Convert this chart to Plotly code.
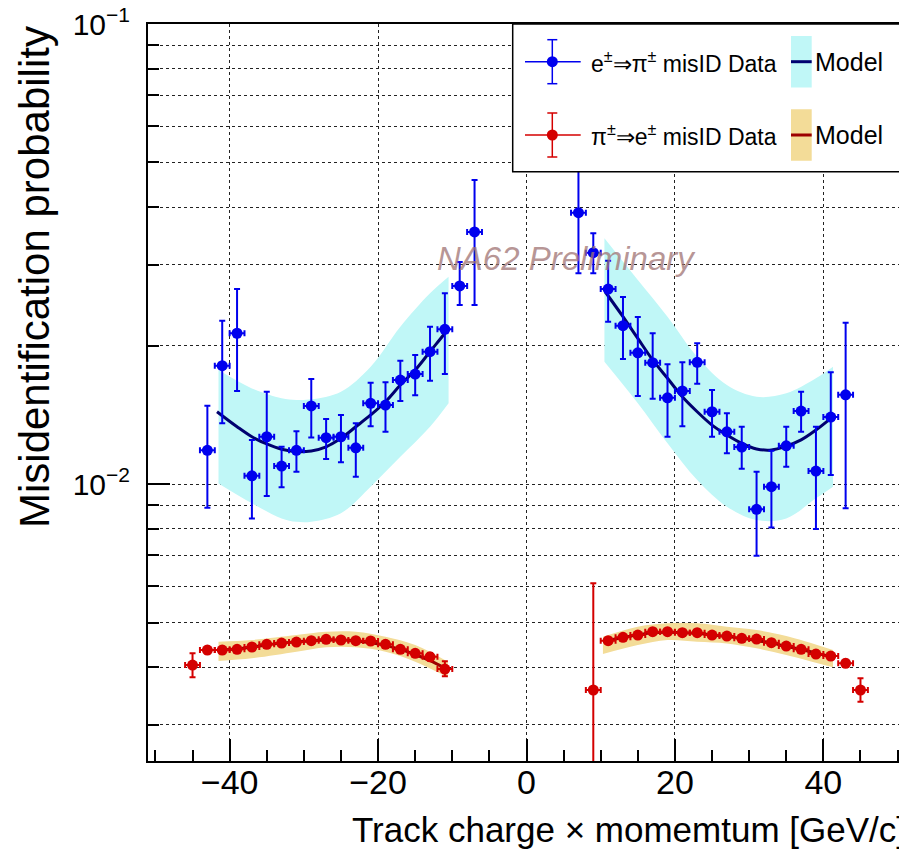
import math
import plotly.graph_objects as go

# ---------------- data ----------------
blue_x = [-43, -41, -39, -37, -35, -33, -31, -29, -27, -25, -23, -21, -19, -17, -15, -13, -11, -9, -7,
          7, 9, 11, 13, 15, 17, 19, 21, 23, 25, 27, 29, 31, 33, 35, 37, 39, 41, 43]
blue_y = [0.01184, 0.01808, 0.02127, 0.01042, 0.01267, 0.01094, 0.01184, 0.01478, 0.01261, 0.01267,
          0.01199, 0.01498, 0.01485, 0.01683, 0.01734, 0.01940, 0.02169, 0.02695, 0.03531,
          0.03889, 0.03184, 0.02654, 0.02209, 0.01928, 0.01836, 0.01540, 0.01593, 0.01839, 0.01436,
          0.01299, 0.01203, 0.00881, 0.00987, 0.01211, 0.01441, 0.01067, 0.01398, 0.01563]
blue_hi = [0.01480, 0.02265, 0.02654, 0.01247, 0.01588, 0.01205, 0.01302, 0.01692, 0.01385, 0.01413,
           0.01355, 0.01661, 0.01664, 0.01854, 0.01908, 0.02198, 0.02598, 0.03039, 0.04580,
           0.05200, 0.03508, 0.03059, 0.02550, 0.02307, 0.02127, 0.01821, 0.01839, 0.02022, 0.01601,
           0.01425, 0.01332, 0.01063, 0.01182, 0.01332, 0.01588, 0.01332, 0.01749, 0.02242]
blue_lo = [0.00888, 0.01355, 0.01593, 0.00842, 0.00942, 0.00984, 0.01063, 0.01263, 0.01133, 0.01115,
           0.01037, 0.01336, 0.01299, 0.01515, 0.01559, 0.01677, 0.01734, 0.02449, 0.02449,
           0.02871, 0.02871, 0.02253, 0.01870, 0.01553, 0.01532, 0.01267, 0.01336, 0.01652, 0.01267,
           0.01166, 0.01080, 0.00698, 0.00804, 0.01091, 0.01299, 0.00798, 0.01046, 0.00886]

red_x = [-45, -43, -41, -39, -37, -35, -33, -31, -29, -27, -25, -23, -21, -19, -17, -15, -13, -11,
         9, 11, 13, 15, 17, 19, 21, 23, 25, 27, 29, 31, 33, 35, 37, 39, 41, 43, 45]
red_y = [0.004041, 0.004356, 0.004356, 0.004372, 0.004423, 0.004483, 0.004512, 0.004535, 0.004565,
         0.004597, 0.004581, 0.004565, 0.004558, 0.004483, 0.004372, 0.004285, 0.004212, 0.003961,
         0.003567, 0.004565, 0.004642, 0.004696, 0.004775, 0.004775, 0.004751, 0.004751, 0.004696,
         0.004673, 0.004619, 0.004603, 0.004519, 0.004444, 0.004372, 0.004270, 0.004228, 0.004076, 0.003567]
red_hi = [0.004285, 0.00443, 0.00443, 0.00444, 0.00449, 0.00455, 0.00458, 0.00460, 0.00463,
          0.00466, 0.00465, 0.00463, 0.00463, 0.00455, 0.00444, 0.00436, 0.00429, 0.00412,
          0.006083, 0.00463, 0.00471, 0.00476, 0.00484, 0.00484, 0.00482, 0.00482, 0.00476,
          0.00474, 0.00469, 0.00467, 0.00459, 0.00451, 0.00444, 0.00434, 0.00430, 0.00415, 0.003781]
red_lo = [0.003800, 0.00428, 0.00428, 0.00430, 0.00435, 0.00441, 0.00444, 0.00447, 0.00450,
          0.00453, 0.00451, 0.00450, 0.00449, 0.00441, 0.00430, 0.00421, 0.00414, 0.00382,
          0.00100, 0.00450, 0.00457, 0.00463, 0.00471, 0.00471, 0.00468, 0.00468, 0.00463,
          0.00461, 0.00455, 0.00454, 0.00445, 0.00438, 0.00431, 0.00420, 0.00416, 0.00400, 0.003362]

# blue model (e -> pi)
bm_left_x = [-41.7, -39, -37, -35, -33, -31, -29, -27, -25, -23, -21, -19, -17, -15, -13, -11, -10.5]
bm_left_y = [0.01436, 0.01332, 0.01267, 0.01222, 0.01190, 0.01176, 0.01180, 0.01205, 0.01257,
             0.01332, 0.01413, 0.01510, 0.01641, 0.01769, 0.01940, 0.02127, 0.02181]
bm_right_x = [10.6, 13, 15, 17, 19, 21, 23, 25, 27, 29, 31, 33, 35, 37, 39, 41]
bm_right_y = [0.02618, 0.02311, 0.02073, 0.01861, 0.01698, 0.01548, 0.01436, 0.01343, 0.01278,
              0.01226, 0.01192, 0.01186, 0.01209, 0.01247, 0.01310, 0.01389]
bb_left_x = [-41.5, -37, -33, -31, -29, -25, -21, -17, -13, -10.5]
bb_left_up = [0.01769, 0.01614, 0.01536, 0.01523, 0.01528, 0.01588, 0.01799, 0.02198, 0.02598, 0.02823]
bb_left_dn = [0.01003, 0.00908, 0.00842, 0.00828, 0.00828, 0.00864, 0.00987, 0.01146, 0.01332, 0.01498]
bb_right_x = [10.5, 15, 19, 23, 27, 31, 35, 39, 41.3]
bb_right_up = [0.03420, 0.02777, 0.02311, 0.01891, 0.01641, 0.01548, 0.01575, 0.01698, 0.01799]
bb_right_dn = [0.01844, 0.01498, 0.01226, 0.01020, 0.00893, 0.00835, 0.00842, 0.00931, 0.00987]

# red model (pi -> e)
rm_left_x = [-41.5, -39, -37, -35, -33, -31, -29, -27, -25, -23, -21, -19, -17, -15, -13, -11]
rm_left_y = [0.004356, 0.00438, 0.00442, 0.00447, 0.00451, 0.00454, 0.00456, 0.00458, 0.00458,
             0.00456, 0.00452, 0.00446, 0.00437, 0.00426, 0.00413, 0.00398]
rm_right_x = [10.4, 13, 15, 17, 19, 21, 23, 25, 27, 29, 31, 33, 35, 37, 39, 41]
rm_right_y = [0.00455, 0.00464, 0.00470, 0.00475, 0.00476, 0.00475, 0.00473, 0.00470, 0.00466,
              0.00462, 0.00457, 0.00451, 0.00444, 0.00437, 0.00429, 0.00422]
rb_left_x = [-41.5, -37, -31, -27, -23, -19, -15, -10.6]
rb_left_up = [0.004542, 0.004581, 0.004696, 0.004775, 0.004775, 0.004656, 0.004467, 0.004109]
rb_left_dn = [0.004123, 0.004180, 0.004319, 0.004416, 0.004416, 0.004319, 0.004109, 0.003800]
rb_right_x = [10.3, 15, 19, 23, 27, 31, 35, 41.3]
rb_right_up = [0.004656, 0.004897, 0.004980, 0.004980, 0.004897, 0.004816, 0.004673, 0.004356]
rb_right_dn = [0.004270, 0.004467, 0.004581, 0.004542, 0.004504, 0.004393, 0.004249, 0.003995]

x_ticks = [-40, -20, 0, 20, 40]
x_minor = [-50, -45, -35, -30, -25, -15, -10, -5, 5, 10, 15, 25, 30, 35, 45, 50]
y_ticks = [0.01, 0.1]
y_ticktext = ["10<sup>\u22122</sup>", "10<sup>\u22121</sup>"]
y_minor = [0.003, 0.004, 0.005, 0.006, 0.007, 0.008, 0.009,
           0.02, 0.03, 0.04, 0.05, 0.06, 0.07, 0.08, 0.09]

# ---------------- style ----------------
FONT = "Liberation Sans, Arial, Helvetica, sans-serif"
BLUE = "#0000ee"
NAVY = "#000070"
CYAN = "#c0f7f7"
RED = "#d40000"
DRED = "#9c0000"
GOLD = "#f3dc98"

# the page body keeps its default 8 px margin, so the figure is made 8 px smaller
OFF = 8
W, H = 907 - OFF, 855 - OFF
ML, MR, MT, MB = 148 - OFF, 2, 24 - OFF, 94
PW, PH = W - ML - MR, H - MT - MB


def px(x):  # screen pixel -> paper
    return (x - OFF - ML) / PW


def py(y):
    return 1 - (y - OFF - MT) / PH


fig = go.Figure()


def add_band(x, up, dn, color):
    fig.add_trace(go.Scatter(x=x, y=dn, mode="lines", line=dict(width=0, shape="spline", color=color),
                             hoverinfo="skip", showlegend=False))
    fig.add_trace(go.Scatter(x=x, y=up, mode="lines", fill="tonexty", fillcolor=color,
                             line=dict(width=0, shape="spline", color=color),
                             hoverinfo="skip", showlegend=False))


add_band(bb_left_x, bb_left_up, bb_left_dn, CYAN)
add_band(bb_right_x, bb_right_up, bb_right_dn, CYAN)
add_band(rb_left_x, rb_left_up, rb_left_dn, GOLD)
add_band(rb_right_x, rb_right_up, rb_right_dn, GOLD)

for mx, my, col in [(bm_left_x, bm_left_y, NAVY), (bm_right_x, bm_right_y, NAVY),
                    (rm_left_x, rm_left_y, DRED), (rm_right_x, rm_right_y, DRED)]:
    fig.add_trace(go.Scatter(x=mx, y=my, mode="lines", line=dict(color=col, width=3, shape="spline"),
                             showlegend=False))


def add_data(x, y, hi, lo, col):
    fig.add_trace(go.Scatter(
        x=x, y=y, mode="markers",
        marker=dict(color=col, size=11, line=dict(width=0)),
        error_y=dict(type="data", symmetric=False,
                     array=[h - v for h, v in zip(hi, y)],
                     arrayminus=[v - l for v, l in zip(y, lo)],
                     color=col, thickness=2, width=3),
        error_x=dict(type="constant", value=1, color=col, thickness=2, width=3),
        showlegend=False))


add_data(blue_x, blue_y, blue_hi, blue_lo, BLUE)
add_data(red_x, red_y, red_hi, red_lo, RED)

# ---------------- legend (drawn by hand, ROOT style) ----------------
shapes = []
annotations = []
shapes.append(dict(type="rect", xref="paper", yref="paper", x0=px(512.7), x1=px(905), y0=py(171.7), y1=py(24),
                   fillcolor="white", line=dict(color="black", width=1.5), layer="above"))
rows = [(61.7, BLUE, CYAN, NAVY, "e<sup>\u00b1</sup>\u21d2\u03c0<sup>\u00b1</sup> misID Data"),
        (135.0, RED, GOLD, DRED, "\u03c0<sup>\u00b1</sup>\u21d2e<sup>\u00b1</sup> misID Data")]
for yc, col, band, lcol, label in rows:
    cx = 552.3
    shapes.append(dict(type="line", xref="paper", yref="paper", x0=px(525), x1=px(580.7), y0=py(yc), y1=py(yc),
                       line=dict(color=col, width=1.5), layer="above"))
    shapes.append(dict(type="line", xref="paper", yref="paper", x0=px(cx), x1=px(cx), y0=py(yc - 22), y1=py(yc + 22),
                       line=dict(color=col, width=1.5), layer="above"))
    for dy in (-22, 22):
        shapes.append(dict(type="line", xref="paper", yref="paper", x0=px(cx - 5), x1=px(cx + 5),
                           y0=py(yc + dy), y1=py(yc + dy), line=dict(color=col, width=1.5), layer="above"))
    shapes.append(dict(type="circle", xref="paper", yref="paper", x0=px(cx - 5.5), x1=px(cx + 5.5),
                       y0=py(yc + 5.5), y1=py(yc - 5.5), fillcolor=col, line=dict(width=0), layer="above"))
    shapes.append(dict(type="rect", xref="paper", yref="paper", x0=px(791), x1=px(811.7),
                       y0=py(yc + 25.7), y1=py(yc - 25.7), fillcolor=band, line=dict(width=0), layer="above"))
    shapes.append(dict(type="line", xref="paper", yref="paper", x0=px(791), x1=px(811.7), y0=py(yc), y1=py(yc),
                       line=dict(color=lcol, width=3), layer="above"))
    annotations.append(dict(xref="paper", yref="paper", x=px(589), y=py(yc), xanchor="left", yanchor="middle",
                            text=label, showarrow=False, font=dict(family=FONT, size=23, color="black")))
    annotations.append(dict(xref="paper", yref="paper", x=px(813), y=py(yc), xanchor="left", yanchor="middle",
                            text="Model", showarrow=False, font=dict(family=FONT, size=25, color="black")))

# watermark
annotations.append(dict(xref="paper", yref="paper", x=px(566.5), y=py(258), xanchor="center", yanchor="middle",
                        text="<i>NA62 Preliminary</i>", showarrow=False,
                        font=dict(family=FONT, size=33, color="rgba(160,115,115,0.75)")))
# axis titles
annotations.append(dict(xref="paper", yref="paper", x=px(908), y=py(830), xanchor="right", yanchor="middle",
                        text="Track charge \u00d7 momemtum [GeV/c]", showarrow=False,
                        font=dict(family=FONT, size=35, color="black")))
annotations.append(dict(xref="paper", yref="paper", x=px(34), y=py(24), xanchor="center", yanchor="top",
                        text="Misidentification probability", textangle=-90, showarrow=False,
                        font=dict(family=FONT, size=42, color="black")))

fig.update_layout(
    width=W, height=H,
    margin=dict(l=ML, r=MR, t=MT, b=MB, autoexpand=False),
    paper_bgcolor="white", plot_bgcolor="white",
    showlegend=False,
    shapes=shapes, annotations=annotations,
    font=dict(family=FONT, color="black"),
    xaxis=dict(range=[-51, 51], tickmode="array", tickvals=x_ticks, ticks="inside", ticklen=22, tickwidth=1.5,
               tickcolor="black", showgrid=True, gridcolor="#222", griddash="dot", gridwidth=1,
               zeroline=False, showline=True, linecolor="black", linewidth=2, mirror=True, automargin=False,
               tickfont=dict(family=FONT, size=34, color="black"), ticklabelstandoff=-10,
               ticklabeloverflow="allow",
               minor=dict(tickmode="array", tickvals=x_minor, ticks="inside", ticklen=11, tickwidth=1.5,
                          tickcolor="black", showgrid=False)),
    yaxis=dict(type="log", range=[math.log10(0.0025), -1], tickmode="array", tickvals=y_ticks,
               ticktext=y_ticktext, ticks="inside", ticklen=22, tickwidth=1.5, tickcolor="black",
               showgrid=True, gridcolor="#222", griddash="dot", gridwidth=1, automargin=False,
               zeroline=False, showline=True, linecolor="black", linewidth=2, mirror=True,
               tickfont=dict(family=FONT, size=30, color="black"), ticklabelstandoff=10,
               ticklabeloverflow="allow",
               minor=dict(tickmode="array", tickvals=y_minor, ticks="inside", ticklen=11, tickwidth=1.5,
                          tickcolor="black", showgrid=True, gridcolor="#222", griddash="dot", gridwidth=1)),
)

fig.write_html("out.html")
